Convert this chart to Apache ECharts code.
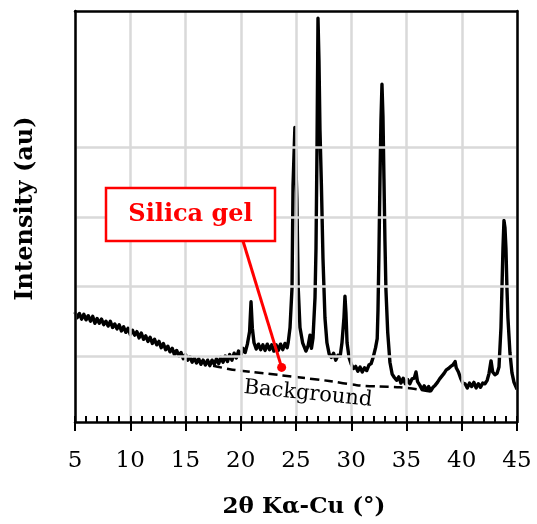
<!DOCTYPE html>
<html>
<head>
<meta charset="utf-8">
<script src="https://cdn.jsdelivr.net/npm/echarts@6/dist/echarts.min.js"></script>
<style>html,body{margin:0;padding:0;background:#fff;}#chart{width:537px;height:524px;}</style>
</head>
<body>
<div id="chart"></div>
<script>
// ---- data ----
const twoTheta = [
5.0,5.2,5.4,5.6,5.8,6.0,6.2,6.4,6.6,6.8,7.0,7.2,7.4,7.6,7.8,8.0,8.2,8.4,8.6,8.8,
9.0,9.2,9.4,9.6,9.8,10.0,10.2,10.4,10.6,10.8,11.0,11.2,11.4,11.6,11.8,12.0,12.2,12.4,12.6,12.8,
13.0,13.2,13.4,13.6,13.8,14.0,14.2,14.4,14.6,14.8,15.0,15.2,15.4,15.6,15.8,16.0,16.2,16.4,16.6,16.8,
17.0,17.2,17.4,17.6,17.8,18.0,18.2,18.4,18.6,18.8,19.0,19.2,19.4,19.6,19.8,20.0,20.2,20.4,20.6,20.8,
20.93,21.05,21.2,21.4,21.6,21.8,22.0,22.2,22.4,22.6,22.8,23.0,23.2,23.4,23.6,23.8,24.0,24.2,24.3,24.46,
24.64,24.73,24.9,25.08,25.2,25.36,25.6,25.9,26.1,26.27,26.4,26.54,26.72,26.81,26.9,26.99,27.08,27.17,27.3,27.44,
27.62,27.8,28.0,28.2,28.4,28.6,28.8,29.0,29.16,29.34,29.43,29.52,29.62,29.8,30.0,30.2,30.4,30.6,30.8,31.0,
31.2,31.4,31.6,31.8,32.0,32.2,32.35,32.42,32.5,32.6,32.69,32.78,32.87,32.96,33.05,33.14,33.3,33.5,33.7,33.9,
34.1,34.3,34.5,34.7,34.9,35.1,35.3,35.5,35.7,35.86,36.0,36.2,36.4,36.6,36.8,37.0,37.2,37.4,37.6,37.8,
38.0,38.2,38.4,38.6,38.8,39.0,39.2,39.4,39.5,39.7,39.9,40.1,40.3,40.5,40.7,40.9,41.1,41.3,41.5,41.7,
41.9,42.1,42.3,42.47,42.65,42.8,43.0,43.2,43.37,43.55,43.64,43.73,43.82,43.91,44.0,44.09,44.18,44.36,44.54,44.73,
45.0
];
const intensity = [
1.58,1.50,1.56,1.48,1.55,1.47,1.53,1.45,1.52,1.42,1.49,1.42,1.48,1.40,1.45,1.38,1.45,1.36,1.41,1.34,
1.40,1.31,1.37,1.29,1.35,1.26,1.32,1.25,1.30,1.21,1.28,1.19,1.24,1.16,1.22,1.13,1.19,1.11,1.16,1.07,
1.13,1.04,1.09,1.01,1.06,0.97,1.03,0.95,1.00,0.91,0.97,0.89,0.94,0.86,0.92,0.85,0.91,0.83,0.89,0.82,
0.89,0.81,0.89,0.83,0.91,0.84,0.93,0.86,0.95,0.87,0.97,0.89,0.99,0.92,1.02,0.95,1.06,1.00,1.12,1.30,
1.73,1.35,1.14,1.05,1.12,1.04,1.11,1.03,1.12,1.04,1.11,1.02,1.11,1.03,1.12,1.04,1.13,1.07,1.15,1.36,
1.93,3.40,4.24,3.20,1.93,1.36,1.14,1.02,1.10,1.25,1.06,1.21,1.79,2.50,3.93,5.81,5.20,4.20,3.40,2.36,
1.50,1.14,0.98,0.93,0.99,0.89,0.96,0.95,1.14,1.50,1.81,1.57,1.14,0.93,0.83,0.77,0.80,0.73,0.79,0.72,
0.78,0.74,0.82,0.84,0.94,1.07,1.20,1.61,2.37,3.50,4.35,4.86,4.40,3.50,2.60,1.90,1.29,0.86,0.69,0.64,
0.60,0.65,0.56,0.63,0.55,0.61,0.55,0.62,0.63,0.72,0.58,0.53,0.47,0.52,0.46,0.51,0.45,0.50,0.53,0.57,
0.62,0.66,0.70,0.75,0.77,0.80,0.82,0.87,0.78,0.72,0.63,0.56,0.55,0.49,0.56,0.51,0.57,0.49,0.55,0.50,
0.56,0.55,0.60,0.70,0.88,0.72,0.68,0.70,0.79,1.36,1.93,2.50,2.90,2.80,2.50,1.93,1.50,1.00,0.71,0.57,
0.47
];
const backgroundTheta = [17.5,19.0,21.0,23.8,25.4,28.0,30.5,32.5,34.4,36.0,37.4];
const backgroundValue = [0.81,0.76,0.72,0.67,0.64,0.59,0.53,0.51,0.50,0.47,0.43];
const xTicks = [5,10,15,20,25,30,35,40,45];
const gridLevels = [0.95,1.95,2.95,3.95];
const annotationPoint = [23.7,0.786];
const labels = { x: '2θ Kα-Cu (°)', y: 'Intensity (au)', note: 'Silica gel', bg: 'Background' };

const serif = '"DejaVu Serif", serif';
const chart = echarts.init(document.getElementById('chart'), null, {renderer: 'canvas'});
const xyData = twoTheta.map((t, i) => [t, intensity[i]]);
const bgData = backgroundTheta.map((t, i) => [t, backgroundValue[i]]);
const xMin = xTicks[0], xMax = xTicks[xTicks.length - 1];

chart.setOption({
  animation: false,
  backgroundColor: '#fff',
  grid: { left: 75, right: 20, top: 11, bottom: 99 },
  xAxis: [
    {
      type: 'value', min: xMin, max: xMax, interval: 5,
      position: 'bottom', z: 5,
      axisLine: { show: true, lineStyle: { color: '#000', width: 2.5 } },
      axisTick: { show: true, inside: false, length: 9, lineStyle: { color: '#000', width: 2 } },
      axisLabel: { color: '#000', fontFamily: serif, fontSize: 23, margin: 28 },
      splitLine: { show: true, lineStyle: { color: '#d9d9d9', width: 2.5 } },
      name: labels.x, nameLocation: 'middle', nameGap: 74,
      nameTextStyle: { color: '#000', fontFamily: serif, fontSize: 23, fontWeight: 'bold', padding: [0, 0, 0, 16] }
    },
    {
      type: 'value', min: xMin, max: xMax, interval: 1,
      position: 'bottom', offset: 0, z: 5,
      axisLine: { show: false },
      axisTick: { show: true, inside: true, length: 6, lineStyle: { color: '#000', width: 2 } },
      axisLabel: { show: false },
      splitLine: { show: false }
    },
    {
      type: 'value', min: xMin, max: xMax, position: 'top', z: 5,
      axisLine: { show: true, lineStyle: { color: '#000', width: 2.5 } },
      axisTick: { show: false }, axisLabel: { show: false }, splitLine: { show: false }
    }
  ],
  yAxis: [
    {
      type: 'value', min: 0, max: 5.914, position: 'left', z: 5,
      axisLine: { show: true, lineStyle: { color: '#000', width: 2.5 } },
      axisTick: { show: false }, axisLabel: { show: false }, splitLine: { show: false },
      name: labels.y, nameLocation: 'middle', nameGap: 37, nameRotate: 90,
      nameTextStyle: { color: '#000', fontFamily: serif, fontSize: 24, fontWeight: 'bold', padding: [0, 0, 0, 16] }
    },
    {
      type: 'value', min: 0, max: 5.914, position: 'right', z: 5,
      axisLine: { show: true, lineStyle: { color: '#000', width: 2.5 } },
      axisTick: { show: false }, axisLabel: { show: false }, splitLine: { show: false }
    }
  ],
  series: [
    {
      type: 'line', data: bgData, z: 3, symbol: 'none', smooth: 0.3,
      lineStyle: { color: '#000', width: 2.5, type: [9, 5] },
      markLine: {
        silent: true, symbol: 'none', label: { show: false },
        lineStyle: { color: '#d9d9d9', width: 2.5, type: 'solid' },
        data: gridLevels.map(v => ({ yAxis: v }))
      }
    },
    {
      type: 'line', data: xyData, z: 4, symbol: 'none',
      lineStyle: { color: '#000', width: 3.4, join: 'round' }
    }
  ]
});

const dot = chart.convertToPixel({ xAxisIndex: 0, yAxisIndex: 0 }, annotationPoint);
chart.setOption({
  graphic: [
    { type: 'line', z: 100, shape: { x1: 243, y1: 241, x2: dot[0], y2: dot[1] }, style: { stroke: '#ff0000', lineWidth: 3 } },
    { type: 'circle', z: 101, shape: { cx: dot[0], cy: dot[1], r: 4.5 }, style: { fill: '#ff0000' } },
    { type: 'rect', z: 102, shape: { x: 106, y: 188, width: 169, height: 53 }, style: { fill: '#fff', stroke: '#ff0000', lineWidth: 2.5 } },
    { type: 'text', z: 103, x: 190.5, y: 215, style: { text: labels.note, fill: '#ff0000', font: 'bold 24px ' + serif, textAlign: 'center', textVerticalAlign: 'middle' } },
    { type: 'text', z: 103, x: 308, y: 394, rotation: -0.1, style: { text: labels.bg, fill: '#000', font: '21px ' + serif, textAlign: 'center', textVerticalAlign: 'middle' } }
  ]
});
</script>
</body>
</html>
